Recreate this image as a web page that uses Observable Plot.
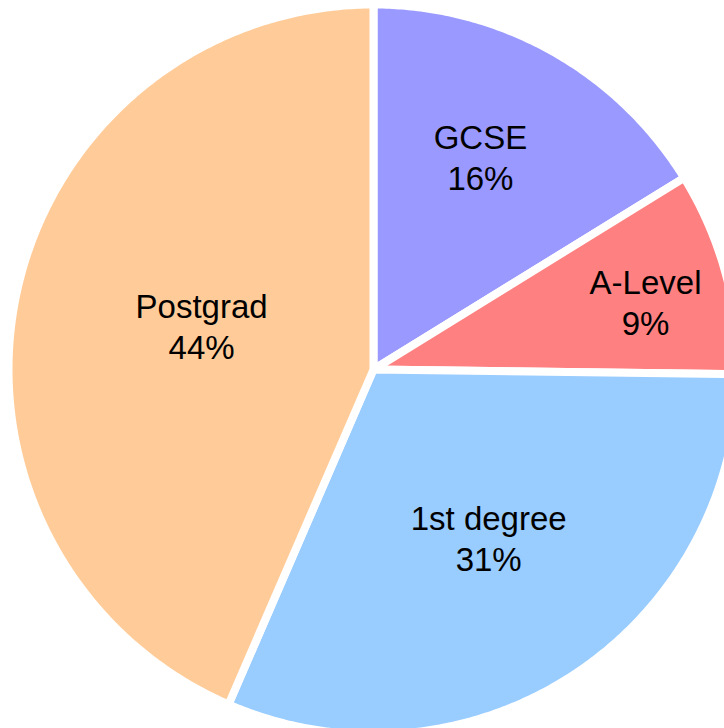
<!DOCTYPE html>
<html>
<head>
<meta charset="utf-8">
<script src="https://cdn.jsdelivr.net/npm/d3@7"></script>
<script src="https://cdn.jsdelivr.net/npm/@observablehq/plot@0.6"></script>
<style>
  html, body { margin: 0; padding: 0; background: #ffffff; }
  #chart svg { display: block; }
</style>
</head>
<body>
<div id="chart"></div>
<script>
// ---- data ----
const categories = ["GCSE", "A-Level", "1st degree", "Postgrad"];
const shares = [16.2, 9.0, 31.3, 43.5];
const pctLabels = ["16%", "9%", "31%", "44%"];

// ---- styling / layout ----
const colors = ["#9999FF", "#FF8080", "#99CCFF", "#FFCC99"];
const W = 724, H = 728;
const cx = 373, cy = 369, R = 365;          // pie centre and radius in pixels
const labelRadius = [0.653, 0.768, 0.558, 0.486];   // fraction of radius
const labelAngleShift = [-2.5, 1.5, -1.5, 2.6];      // degrees from slice bisector

// ---- build slices with d3.pie (clockwise from 12 o'clock) ----
const arcs = d3.pie().sort(null).value(d => d)(shares);
const slicePoints = [];
const labels = [];
arcs.forEach((a, i) => {
  const name = categories[i];
  slicePoints.push({slice: name, u: 0, v: 0});
  const steps = Math.max(2, Math.ceil((a.endAngle - a.startAngle) / (Math.PI / 360)));
  for (let k = 0; k <= steps; k++) {
    const t = a.startAngle + (a.endAngle - a.startAngle) * k / steps;
    slicePoints.push({slice: name, u: Math.sin(t), v: Math.cos(t)});
  }
  slicePoints.push({slice: name, u: 0, v: 0});
  const mid = (a.startAngle + a.endAngle) / 2 + labelAngleShift[i] * Math.PI / 180;
  labels.push({
    u: labelRadius[i] * Math.sin(mid),
    v: labelRadius[i] * Math.cos(mid),
    text: name + "\n" + pctLabels[i]
  });
});

const chart = Plot.plot({
  width: W,
  height: H,
  margin: 0,
  x: {domain: [-cx / R, (W - cx) / R], axis: null},
  y: {domain: [(cy - H) / R, cy / R], axis: null},
  color: {domain: categories, range: colors, legend: false},
  style: {background: "#ffffff"},
  marks: [
    Plot.line(slicePoints, {
      x: "u", y: "v", z: "slice",
      fill: "slice",
      stroke: "#ffffff",
      strokeWidth: 8,
      strokeLinejoin: "round",
      curve: "linear",
      clip: true
    }),
    Plot.text(labels, {
      x: "u", y: "v", text: "text",
      fontSize: 33,
      lineHeight: 1.24,
      fontFamily: "'Liberation Sans', Arial, Helvetica, sans-serif",
      fill: "#000000",
      textAnchor: "middle"
    })
  ]
});
document.getElementById("chart").appendChild(chart);
</script>
</body>
</html>
